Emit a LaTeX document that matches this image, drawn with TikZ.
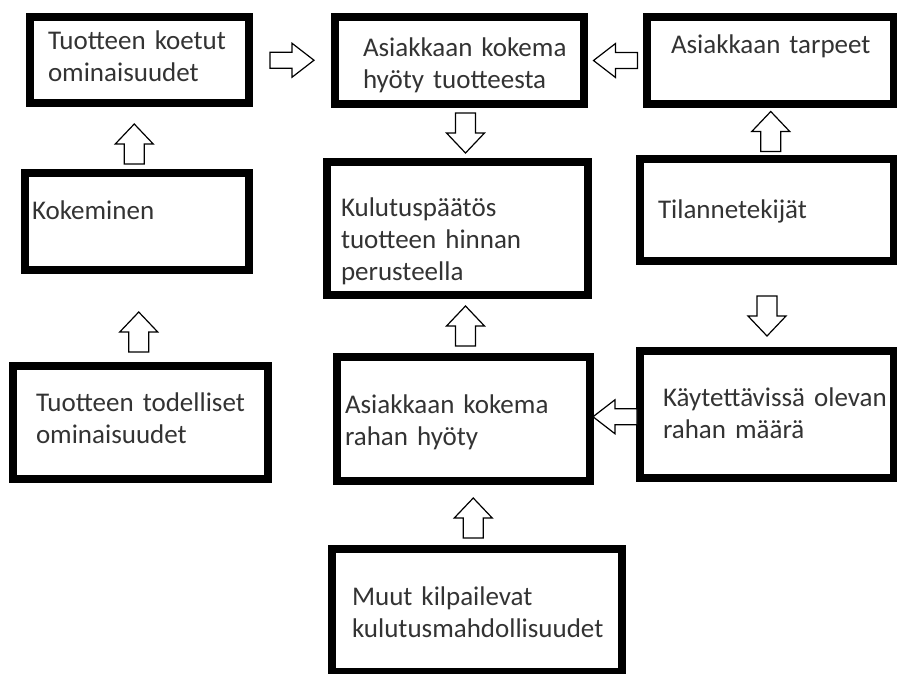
\documentclass[tikz,border=0pt]{standalone}
\usepackage{fontspec}
\setmainfont{Carlito}
\usetikzlibrary{calc}
\newcommand{\boxfont}{\fontsize{27pt}{32pt}\selectfont}
\hyphenpenalty=10000
\exhyphenpenalty=10000

\begin{document}
\begin{tikzpicture}[
    x=1pt, y=-1pt,
    box/.style={draw, line width=8pt, outer sep=4pt, inner sep=0pt,
                anchor=north west, align=left, font=\boxfont, text=black!80},
    boxsize/.style n args={5}{minimum width=#1pt, minimum height=#2pt,
                text width=#3pt, text height=#4pt, text depth=#5pt},
    arrowline/.style={draw=black, fill=white, line width=1.2pt, line join=miter},
    harrow/.pic={\path[arrowline] (-22,-8) -- (0,-8) -- (0,-17) -- (22,0)
                 -- (0,17) -- (0,8) -- (-22,8) -- cycle;},
    varrow/.pic={\path[arrowline] (-20,-10) -- (0,-10) -- (0,-19) -- (20,0)
                 -- (0,19) -- (0,10) -- (-20,10) -- cycle;}
]
\useasboundingbox (0,0) rectangle (897,673);
\clip (0,0) rectangle (897,673);

% top row
\node[box, boxsize={219}{86}{183}{32}{54}] (koetut) at (26,13)
    {Tuotteen~koetut\\ominaisuudet};
\node[box, boxsize={249}{87}{193}{39}{48}] (hyoty) at (331,13)
    {Asiakkaan~kokema\\hyöty~tuotteesta};
\node[box, boxsize={247}{87}{199}{36}{51}] (tarpeet) at (643,13)
    {Asiakkaan~tarpeet};

% middle row
\node[box, boxsize={224}{97}{210}{46}{51}] (kokeminen) at (21,169)
    {Kokeminen};
\node[box, boxsize={261}{133}{233}{54}{79}] (paatos) at (323,158)
    {Kulutuspäätös\\tuotteen~hinnan\\perusteella};
\node[box, boxsize={254}{102}{218}{59}{43}] (tilanne) at (636,155)
    {Tilannetekijät};

% lower rows
\node[box, boxsize={255}{113}{209}{45}{68}] (todelliset) at (9,362)
    {Tuotteen~todelliset\\ominaisuudet};
\node[box, boxsize={253}{124}{237}{56}{68}] (rahanhyoty) at (333,353)
    {Asiakkaan~kokema\\rahan~hyöty};
\node[box, boxsize={254}{127}{208}{55}{72}] (maara) at (636,347)
    {Käytettävissä~olevan\\rahan~määrä};
\node[box, boxsize={290}{123}{250}{56}{67}] (muut) at (328,545)
    {Muut~kilpailevat\\kulutusmahdollisuudet};

% block arrows
\pic at ($(koetut.east)!.5!(hyoty.west)$) {harrow};
\pic[rotate=180] at ($(hyoty.east)!.5!(tarpeet.west)$) {harrow};
\pic[rotate=-90] at ($(hyoty.south)!.5!(paatos.north)+(7,0)$) {varrow};
\pic[rotate=90] at ($(koetut.south)!.5!(kokeminen.north)+(-4,6)$) {varrow};
\pic[rotate=90] at ($(kokeminen.south)!.5!(todelliset.north)+(0,14)$) {varrow};
\pic[rotate=90] at ($(tarpeet.south)!.5!(tilanne.north)+(2,0)$) {varrow};
\pic[rotate=-90] at ($(tilanne.south)!.5!(maara.north)+(0,10)$) {varrow};
\pic[rotate=180] at ($(rahanhyoty.east)!.5!(maara.west)$) {harrow};
\pic[rotate=90] at ($(paatos.south)!.5!(rahanhyoty.north)+(5,0)$) {varrow};
\pic[rotate=90] at ($(rahanhyoty.south)!.5!(muut.north)+(3,3)$) {varrow};

\end{tikzpicture}
\end{document}
